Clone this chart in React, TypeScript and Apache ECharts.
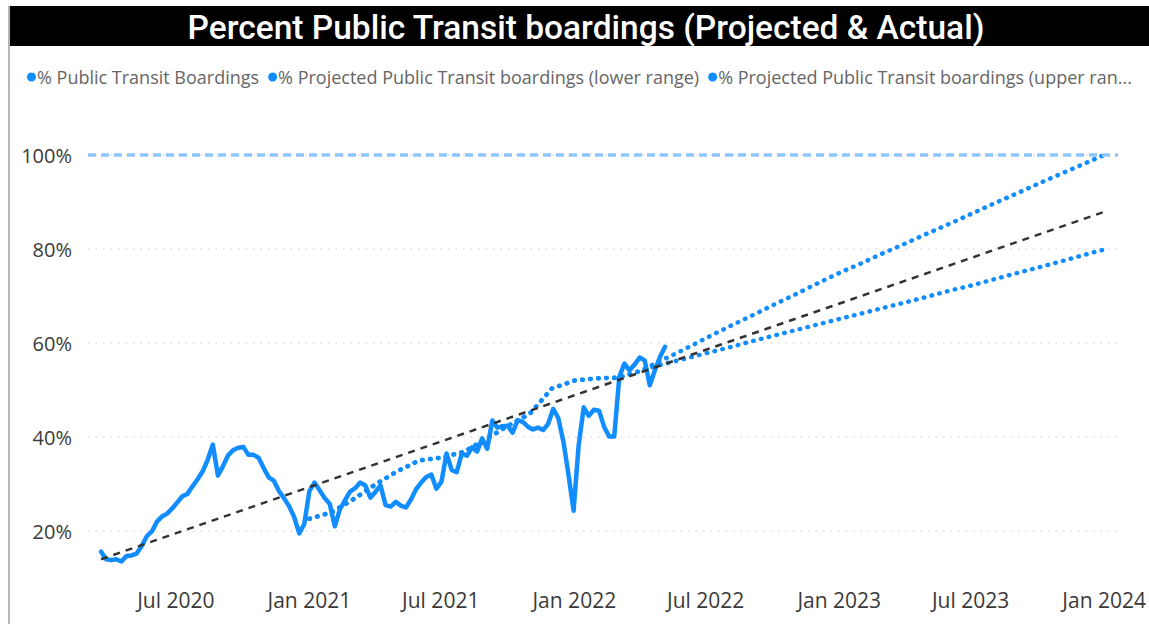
import React, { useEffect, useRef } from 'react';
import * as echarts from 'echarts';

const TITLE = 'Percent Public Transit boardings (Projected & Actual)';
const SERIES_ACTUAL = '% Public Transit Boardings';
const SERIES_LOWER = '% Projected Public Transit boardings (lower range)';
const SERIES_UPPER = '% Projected Public Transit boardings (upper range)';
const SERIES_TREND = 'Trend';

// Weekly actual boardings (%), first week starting 2020-03-20
const actualStart = '2020-03-20';
const actualValues = [
  15.6, 14.0, 13.8, 14.0, 13.5, 14.7, 14.8, 15.2, 16.8, 18.9,
  19.9, 22.0, 23.1, 23.7, 24.8, 26.1, 27.4, 27.9, 29.5, 31.0,
  32.7, 35.2, 38.4, 31.8, 33.8, 36.1, 37.2, 37.7, 37.9, 36.2,
  36.2, 35.6, 33.4, 31.4, 30.7, 28.5, 27.0, 25.3, 23.0, 19.5,
  21.5, 28.5, 30.3, 28.7, 27.0, 25.8, 21.0, 24.6, 26.5, 28.4,
  29.1, 30.3, 29.7, 27.1, 28.3, 29.7, 25.5, 25.2, 26.2, 25.4,
  25.0, 26.7, 28.9, 30.3, 31.5, 32.0, 29.0, 30.5, 36.5, 33.0,
  32.5, 36.5, 36.0, 37.8, 36.9, 39.7, 37.5, 43.5, 42.0, 42.3,
  42.4, 40.9, 43.6, 43.2, 42.2, 41.6, 42.0, 41.5, 42.8, 46.0,
  44.0, 39.0, 32.0, 24.3, 38.3, 46.3, 44.5, 45.8, 45.6, 42.2,
  40.1, 40.1, 52.8, 55.6, 54.2, 55.4, 56.9, 56.3, 51.0, 54.2,
  57.0, 59.2,
];

// Monthly projections
const projectedMonths = [
  '2021-01-01', '2021-02-01', '2021-03-01', '2021-04-01', '2021-05-01', '2021-06-01',
  '2021-07-01', '2021-08-01', '2021-09-01', '2021-10-01', '2021-11-01', '2021-12-01',
  '2022-01-01', '2022-02-01', '2022-03-01', '2022-04-01', '2022-05-01', '2022-06-01',
  '2022-07-01', '2022-08-01', '2022-09-01', '2022-10-01', '2022-11-01', '2022-12-01',
  '2023-01-01', '2023-02-01', '2023-03-01', '2023-04-01', '2023-05-01', '2023-06-01',
  '2023-07-01', '2023-08-01', '2023-09-01', '2023-10-01', '2023-11-01', '2023-12-01',
  '2024-01-01',
];
const projectedShared = [22.6, 24.0, 26.6, 29.8, 32.6, 35.0, 35.6, 36.8, 39.5, 42.3, 45.0, 50.3, 52.0, 52.5, 52.6, 54.0];
const lowerTail = [55.4, 56.6, 57.8, 59.0, 60.3, 61.5, 62.7, 63.9, 65.1, 66.3, 67.4, 68.6, 69.8, 71.1, 72.2, 73.5, 74.8, 76.0, 77.3, 78.6, 79.9];
const upperTail = [56.3, 58.6, 61.0, 63.4, 65.7, 68.0, 70.3, 72.6, 74.9, 77.0, 79.0, 81.1, 83.2, 85.3, 87.4, 89.6, 91.7, 93.8, 95.9, 97.9, 100.0];

// Trend line
const trendDates = ['2020-03-20', '2024-01-01'];
const trendValues = [14.0, 87.9];

// Target constant line
const targetValue = 100;

// Axis ticks
const xTickDates = ['2020-07-01', '2021-01-01', '2021-07-01', '2022-01-01', '2022-07-01', '2023-01-01', '2023-07-01', '2024-01-01'];
const yTickValues = [20, 40, 60, 80, 100];
const xRange = ['2020-03-02', '2024-01-20'];
const yRange = [8, 105];
const MONTHS = ['Jan', 'Feb', 'Mar', 'Apr', 'May', 'Jun', 'Jul', 'Aug', 'Sep', 'Oct', 'Nov', 'Dec'];

const parseDate = (s: string) => {
  const [y, m, d] = s.split('-').map(Number);
  return new Date(y, m - 1, d).getTime();
};

const FONT = "'Open Sans', 'Noto Sans', sans-serif";
const BLUE = '#118DFF';

function buildOption() {
  const startD = new Date(parseDate(actualStart));
  const actualData = actualValues.map((v, i) => [
    new Date(startD.getFullYear(), startD.getMonth(), startD.getDate() + 7 * i).getTime(),
    v,
  ]);
  const lowerValues = projectedShared.concat(lowerTail);
  const upperValues = projectedShared.concat(upperTail);
  const lowerData = projectedMonths.map((m, i) => [parseDate(m), lowerValues[i]]);
  const upperData = projectedMonths.map((m, i) => [parseDate(m), upperValues[i]]);
  const trendData = trendDates.map((d, i) => [parseDate(d), trendValues[i]]);

  const dottedStyle = { color: BLUE, width: 4.5, type: [0.5, 7.5], cap: 'round' };
  const xTicks = xTickDates.map(parseDate);

  return {
    animation: false,
    backgroundColor: '#ffffff',
    textStyle: { fontFamily: FONT },
    title: {
      text: TITLE,
      left: 586,
      textAlign: 'center',
      top: 10,
      padding: 0,
      z: 20,
      textStyle: { color: '#ffffff', fontFamily: 'Roboto', fontWeight: 500, fontSize: 33.5 },
    },
    graphic: [
      { type: 'rect', z: 0, shape: { x: 8, y: 6, width: 1141, height: 40 }, style: { fill: '#000000' } },
      { type: 'line', z: 0, shape: { x1: 9, y1: 6, x2: 9, y2: 624 }, style: { stroke: '#b5b5b5', lineWidth: 2 } },
    ],
    legend: {
      left: 22,
      top: 63,
      icon: 'circle',
      itemWidth: 9,
      itemHeight: 9,
      itemGap: 9,
      itemStyle: { borderWidth: 0 },
      textStyle: { color: '#666666', fontSize: 18, fontFamily: FONT, padding: [0, 0, 0, -4] },
      data: [
        { name: SERIES_ACTUAL },
        { name: SERIES_LOWER },
        { name: SERIES_UPPER, textStyle: { width: 418, overflow: 'truncate', ellipsis: '...' } },
      ],
    },
    grid: { left: 88, right: 31, top: 131.5, bottom: 36.6 },
    xAxis: {
      type: 'value',
      min: parseDate(xRange[0]),
      max: parseDate(xRange[1]),
      axisLine: { show: false },
      axisTick: { show: false, customValues: xTicks },
      splitLine: { show: false },
      axisLabel: {
        customValues: xTicks,
        formatter: (v: number) => {
          const d = new Date(v);
          return MONTHS[d.getMonth()] + ' ' + d.getFullYear();
        },
        color: '#3a3a3a',
        fontSize: 21,
        fontFamily: FONT,
        margin: 2,
        hideOverlap: false,
      },
    },
    yAxis: {
      type: 'value',
      min: yRange[0],
      max: yRange[1],
      axisLine: { show: false },
      axisTick: { show: false, customValues: yTickValues },
      axisLabel: {
        customValues: yTickValues,
        formatter: '{value}%',
        color: '#3a3a3a',
        fontSize: 20,
        fontFamily: FONT,
        margin: 16,
      },
      splitLine: { show: true, lineStyle: { color: '#dcdcdc', width: 1.5, type: [1.5, 6] } },
    },
    series: [
      {
        name: SERIES_LOWER,
        type: 'line',
        data: lowerData,
        symbol: 'none',
        itemStyle: { color: BLUE },
        lineStyle: dottedStyle,
        emphasis: { disabled: true },
        z: 2,
      },
      {
        name: SERIES_UPPER,
        type: 'line',
        data: upperData,
        symbol: 'none',
        itemStyle: { color: BLUE },
        lineStyle: dottedStyle,
        emphasis: { disabled: true },
        z: 2,
      },
      {
        name: SERIES_ACTUAL,
        type: 'line',
        data: actualData,
        symbol: 'none',
        itemStyle: { color: BLUE },
        lineStyle: { color: BLUE, width: 4.5, join: 'round', cap: 'round' },
        emphasis: { disabled: true },
        z: 3,
        markLine: {
          silent: true,
          symbol: 'none',
          label: { show: false },
          lineStyle: { color: '#8ec6ff', width: 3.5, type: [8, 5] },
          data: [{ yAxis: targetValue }],
        },
      },
      {
        name: SERIES_TREND,
        type: 'line',
        data: trendData,
        symbol: 'none',
        itemStyle: { color: '#333333' },
        lineStyle: { color: '#333333', width: 2.5, type: [7, 6] },
        emphasis: { disabled: true },
        z: 4,
      },
    ],
  };
}

export default function App() {
  const ref = useRef<HTMLDivElement>(null);
  useEffect(() => {
    if (!ref.current) return;
    const chart = echarts.init(ref.current, null, { renderer: 'svg' });
    chart.setOption(buildOption() as any);
    return () => chart.dispose();
  }, []);
  return (
    <div
      ref={ref}
      style={{ position: 'fixed', left: 0, top: 0, width: 1149, height: 624, background: '#ffffff' }}
    />
  );
}
